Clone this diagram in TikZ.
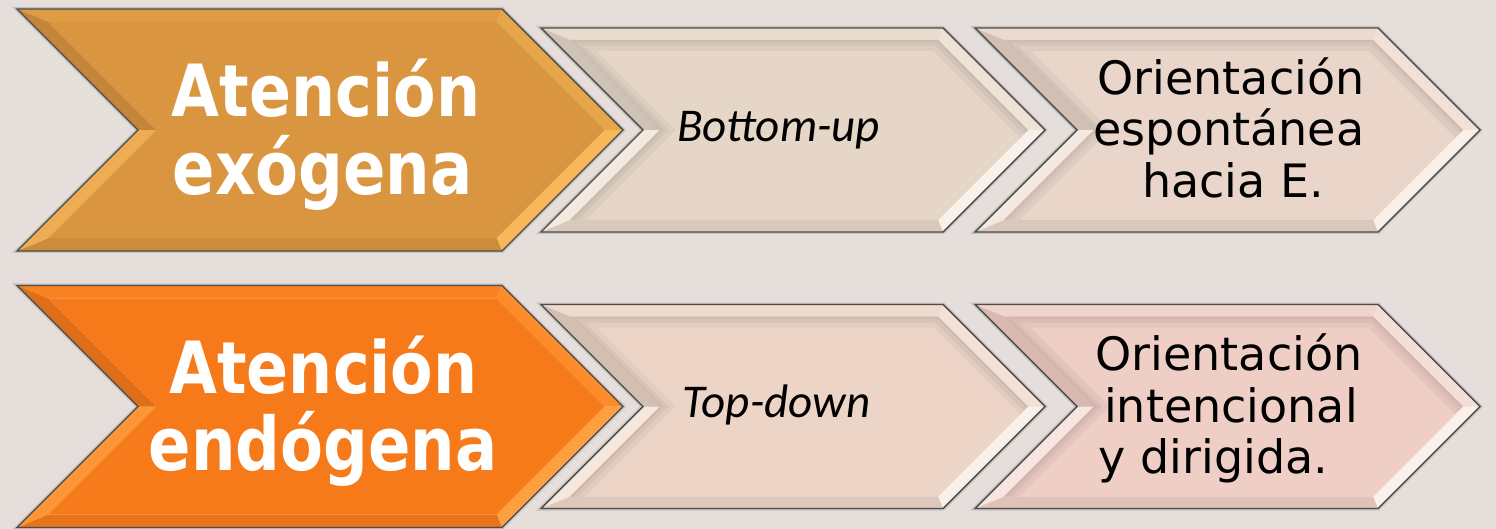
\documentclass[tikz,border=0pt]{standalone}
\usepackage{fontspec}
\usepackage{graphicx}
\newfontfamily\dvs{DejaVu Sans}
\newfontfamily\carl{Carlito}
\definecolor{bgc}{HTML}{E5DEDA}
\definecolor{bigA}{HTML}{D9953F}
\definecolor{bigAhi}{HTML}{F7B85A}
\definecolor{bigB}{HTML}{F77A1A}
\definecolor{bigBhi}{HTML}{FFA040}
\definecolor{smAA}{HTML}{E6D6C7}
\definecolor{smAB}{HTML}{E9D5C9}
\definecolor{smBA}{HTML}{ECD4C7}
\definecolor{smBB}{HTML}{EFCEC5}
\definecolor{smhi}{HTML}{FAF0EA}
\tikzset{
  outline/.style={draw=black!70, line width=1.4pt, line join=miter},
  outshadow/.style={draw=black!50, line width=4pt, line join=miter, opacity=0.3},
  innershade/.style={black, opacity=0.04, line join=miter},
  bigtext/.style={anchor=base, inner sep=0pt, text=white, font=\dvs\bfseries\fontsize{72}{80}\selectfont},
  bigtextB/.style={anchor=base, inner sep=0pt, text=white, font=\dvs\bfseries\fontsize{74}{80}\selectfont},
  midtext/.style={anchor=base, inner sep=0pt, text=black, font=\carl\itshape\fontsize{47}{54}\selectfont},
  righttext/.style={anchor=base, inner sep=0pt, text=black, font=\dvs\fontsize{46}{52}\selectfont},
}
\newcommand\chevshape[8]{%
  \pgfmathsetmacro\chvY{(#3+#4)/2}%
  \pgfmathsetmacro\chvD{(#4-#3)/2}%
  \pgfmathsetmacro\chvS{#5*1.41421}%
  \pgfmathsetmacro\chvA{#5*2.41421}%
  \pgfmathsetmacro\chvB{#5*0.41421}%
  \coordinate (#8-tl) at (#1,#3);
  \coordinate (#8-tr) at (#2,#3);
  \coordinate (#8-tp) at ({#2+\chvD},\chvY);
  \coordinate (#8-br) at (#2,#4);
  \coordinate (#8-bl) at (#1,#4);
  \coordinate (#8-nt) at ({#1+\chvD},\chvY);
  \coordinate (#8-itl) at ({#1+\chvA},{#3+#5});
  \coordinate (#8-itr) at ({#2-\chvB},{#3+#5});
  \coordinate (#8-itp) at ({#2+\chvD-\chvS},\chvY);
  \coordinate (#8-ibr) at ({#2-\chvB},{#4-#5});
  \coordinate (#8-ibl) at ({#1+\chvA},{#4-#5});
  \coordinate (#8-int) at ({#1+\chvD+\chvS},\chvY);
  \draw[outshadow] (#8-tl)--(#8-tr)--(#8-tp)--(#8-br)--(#8-bl)--(#8-nt)--cycle;
  \fill[#6!80!#7] (#8-tl)--(#8-tr)--(#8-itr)--(#8-itl)--cycle;
  \fill[#6!55!#7] (#8-tr)--(#8-tp)--(#8-itp)--(#8-itr)--cycle;
  \fill[#7] (#8-tp)--(#8-br)--(#8-ibr)--(#8-itp)--cycle;
  \fill[#6!94!black] (#8-br)--(#8-bl)--(#8-ibl)--(#8-ibr)--cycle;
  \fill[#6!30!#7] (#8-bl)--(#8-nt)--(#8-int)--(#8-ibl)--cycle;
  \fill[#6!90!black] (#8-nt)--(#8-tl)--(#8-itl)--(#8-int)--cycle;
  \fill[#6] (#8-itl)--(#8-itr)--(#8-itp)--(#8-ibr)--(#8-ibl)--(#8-int)--cycle;
  \draw[outline] (#8-tl)--(#8-tr)--(#8-tp)--(#8-br)--(#8-bl)--(#8-nt)--cycle;
}
\newcommand\chevinner[1]{%
  \begin{scope}
    \clip (#1-itl)--(#1-itr)--(#1-itp)--(#1-ibr)--(#1-ibl)--(#1-int)--cycle;
    \draw[innershade, line width=22pt] (#1-ibl)--(#1-int)--(#1-itl)--(#1-itr)--(#1-itp);
    \draw[innershade, line width=12pt] (#1-ibl)--(#1-int)--(#1-itl)--(#1-itr)--(#1-itp);
    \draw[innershade, line width=5pt] (#1-ibl)--(#1-int)--(#1-itl)--(#1-itr)--(#1-itp);
  \end{scope}
}
\begin{document}
\begin{tikzpicture}[x=1pt,y=-1pt]
\fill[bgc] (0,0) rectangle (1496,529);
\useasboundingbox (0,0) rectangle (1496,529);
% row 1
\chevshape{17}{502}{9}{251}{13}{bigA}{bigAhi}{ca}
\chevshape{541}{943}{28}{232}{12}{smAA}{smhi}{cb}
\chevinner{cb}
\chevshape{975}{1378}{28}{232}{12}{smAB}{smhi}{cc}
\chevinner{cc}
% row 2
\chevshape{17}{502}{285.5}{527.5}{13}{bigB}{bigBhi}{cd}
\chevshape{541}{943}{304.5}{508.5}{12}{smBA}{smhi}{ce}
\chevinner{ce}
\chevshape{975}{1378}{304.5}{508.5}{12}{smBB}{smhi}{cf}
\chevinner{cf}
% texts row 1
\node[bigtext] (t1a) at (326,117) {\scalebox{0.86}[1]{Atención}};
\node[bigtextB] (t1b) at (322.5,195) {\scalebox{0.845}[1]{exógena}};
\node[midtext] (t1c) at (778.5,142) {Bottom-up};
\node[righttext] (t1d) at (1231,95) {Orientación};
\node[righttext] (t1e) at (1229,146) {espontánea};
\node[righttext] (t1f) at (1233,198) {hacia E.};
% texts row 2
\node[bigtext] (t2a) at (323.5,393) {\scalebox{0.86}[1]{Atención}};
\node[bigtextB] (t2b) at (323,470) {\scalebox{0.845}[1]{endógena}};
\node[midtext] (t2c) at (776.5,417) {Top-down};
\node[righttext] (t2d) at (1229,370) {Orientación};
\node[righttext] (t2e) at (1231,422) {intencional};
\node[righttext] (t2f) at (1213.5,473) {y dirigida.};
\end{tikzpicture}
\end{document}
